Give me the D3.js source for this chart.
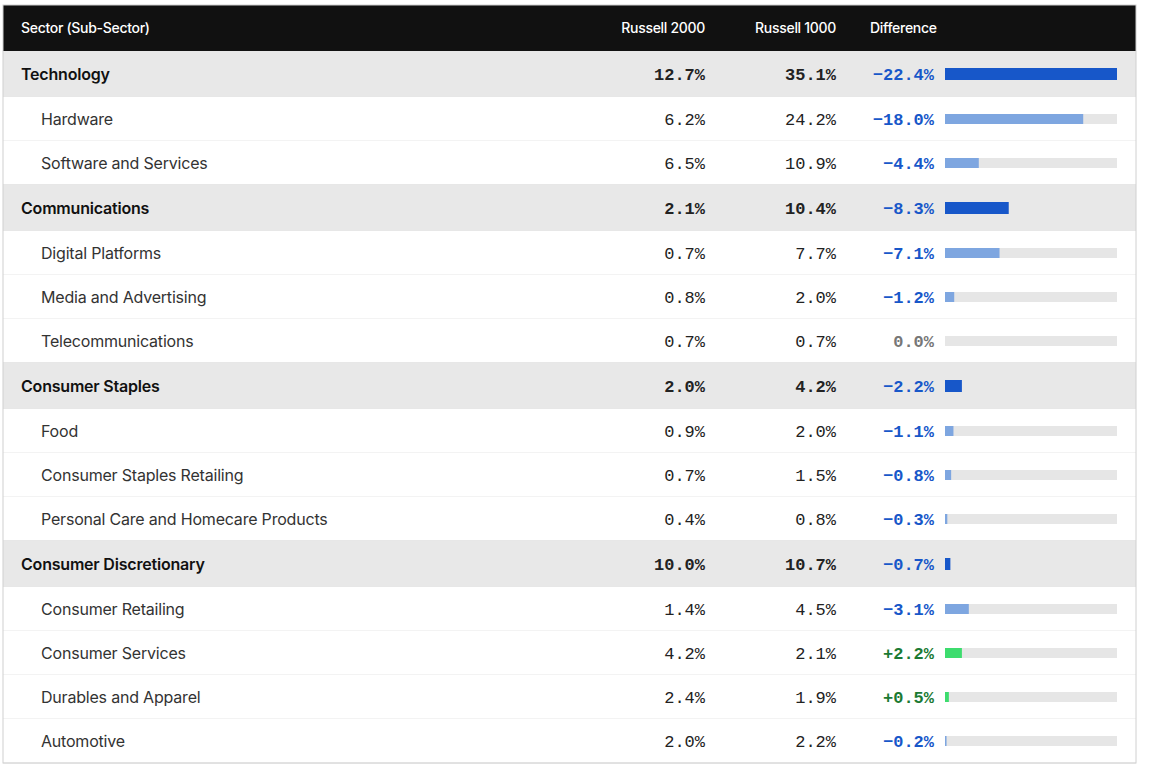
<!DOCTYPE html>
<html>
<head>
<meta charset="UTF-8">
<script src="https://d3js.org/d3.v7.min.js"></script>
<style>
  body { margin: 0; background: #fff; font-family: Inter, "Noto Sans", sans-serif; }
  svg { display: block; }
</style>
</head>
<body>
<svg id="chart" width="1152" height="770"></svg>
<script>
const rows = [
  {name: "Technology", r2: 12.7, r1: 35.1, diff: -22.4, sector: true},
  {name: "Hardware", r2: 6.2, r1: 24.2, diff: -18.0},
  {name: "Software and Services", r2: 6.5, r1: 10.9, diff: -4.4},
  {name: "Communications", r2: 2.1, r1: 10.4, diff: -8.3, sector: true},
  {name: "Digital Platforms", r2: 0.7, r1: 7.7, diff: -7.1},
  {name: "Media and Advertising", r2: 0.8, r1: 2.0, diff: -1.2},
  {name: "Telecommunications", r2: 0.7, r1: 0.7, diff: 0.0},
  {name: "Consumer Staples", r2: 2.0, r1: 4.2, diff: -2.2, sector: true},
  {name: "Food", r2: 0.9, r1: 2.0, diff: -1.1},
  {name: "Consumer Staples Retailing", r2: 0.7, r1: 1.5, diff: -0.8},
  {name: "Personal Care and Homecare Products", r2: 0.4, r1: 0.8, diff: -0.3},
  {name: "Consumer Discretionary", r2: 10.0, r1: 10.7, diff: -0.7, sector: true},
  {name: "Consumer Retailing", r2: 1.4, r1: 4.5, diff: -3.1},
  {name: "Consumer Services", r2: 4.2, r1: 2.1, diff: 2.2},
  {name: "Durables and Apparel", r2: 2.4, r1: 1.9, diff: 0.5},
  {name: "Automotive", r2: 2.0, r1: 2.2, diff: -0.2}
];

const svg = d3.select("#chart");
const left = 3, right = 1136, headTop = 5, headH = 46;
const sectorH = 46, subH = 44;

// row positions
let y = headTop + headH;
rows.forEach(d => { d.h = d.sector ? sectorH : subH; d.y = y; y += d.h; });
const bottom = y;

const x = d3.scaleLinear().domain([0, 22.4]).range([0, 172]);
const barX = 945;
const mono = "'Liberation Mono', 'DejaVu Sans Mono', monospace";

// header
svg.append("rect").attr("x", left).attr("y", headTop).attr("width", right - left).attr("height", headH).attr("fill", "#111");
const head = [
  {t: "Sector (Sub-Sector)", x: 21, a: "start"},
  {t: "Russell 2000", x: 705, a: "end"},
  {t: "Russell 1000", x: 836, a: "end"},
  {t: "Difference", x: 870, a: "start"}
];
svg.selectAll(".head").data(head).enter().append("text")
  .attr("x", d => d.x).attr("y", headTop + headH / 2 + 5)
  .attr("text-anchor", d => d.a).attr("fill", "#fff")
  .attr("font-size", 14).attr("font-weight", 500).attr("letter-spacing", -0.3)
  .text(d => d.t);

const g = svg.selectAll(".row").data(rows).enter().append("g").attr("transform", d => `translate(0,${d.y})`);

g.append("rect").attr("x", left).attr("width", right - left).attr("height", d => d.h)
  .attr("fill", d => d.sector ? "#e8e8e8" : "#fff");
g.append("line").attr("x1", left).attr("x2", right).attr("y1", d => d.h).attr("y2", d => d.h)
  .attr("stroke", (d, i) => (rows[i + 1] && rows[i + 1].sector) ? "#cfcfcf" : "#e6e6e6");

g.append("text").attr("x", d => d.sector ? 21 : 41).attr("y", d => d.h / 2 + 6)
  .attr("font-size", 16).attr("font-weight", d => d.sector ? 600 : 400)
  .attr("fill", d => d.sector ? "#111" : "#333").attr("letter-spacing", -0.2)
  .text(d => d.name);

const fmt = v => v.toFixed(1) + "%";
g.append("text").attr("x", 705).attr("y", d => d.h / 2 + 6).attr("text-anchor", "end")
  .attr("font-family", mono).attr("font-size", 17).attr("font-weight", d => d.sector ? 700 : 400)
  .attr("fill", "#222").text(d => fmt(d.r2));
g.append("text").attr("x", 836).attr("y", d => d.h / 2 + 6).attr("text-anchor", "end")
  .attr("font-family", mono).attr("font-size", 17).attr("font-weight", d => d.sector ? 700 : 400)
  .attr("fill", "#222").text(d => fmt(d.r1));

const diffColor = d => d.diff < 0 ? "#1757c9" : d.diff > 0 ? "#1b7a33" : "#777";
g.append("text").attr("x", 934).attr("y", d => d.h / 2 + 6).attr("text-anchor", "end")
  .attr("font-family", mono).attr("font-size", 17).attr("font-weight", 700)
  .attr("fill", diffColor)
  .text(d => (d.diff < 0 ? "\u2212" : d.diff > 0 ? "+" : "") + Math.abs(d.diff).toFixed(1) + "%");

// track for sub rows
g.filter(d => !d.sector).append("rect").attr("x", barX).attr("y", d => d.h / 2 - 5)
  .attr("width", x(22.4)).attr("height", 10).attr("fill", "#e6e6e6");
g.append("rect").attr("x", barX)
  .attr("y", d => d.sector ? d.h / 2 - 6 : d.h / 2 - 5)
  .attr("width", d => x(Math.abs(d.diff)))
  .attr("height", d => d.sector ? 12 : 10)
  .attr("fill", d => d.diff > 0 ? "#3ddc6e" : d.sector ? "#1757c9" : "#7ea6e0");

// outer border
svg.append("rect").attr("x", left).attr("y", headTop).attr("width", right - left).attr("height", bottom - headTop)
  .attr("fill", "none").attr("stroke", "#d0d0d0");
</script>
</body>
</html>
